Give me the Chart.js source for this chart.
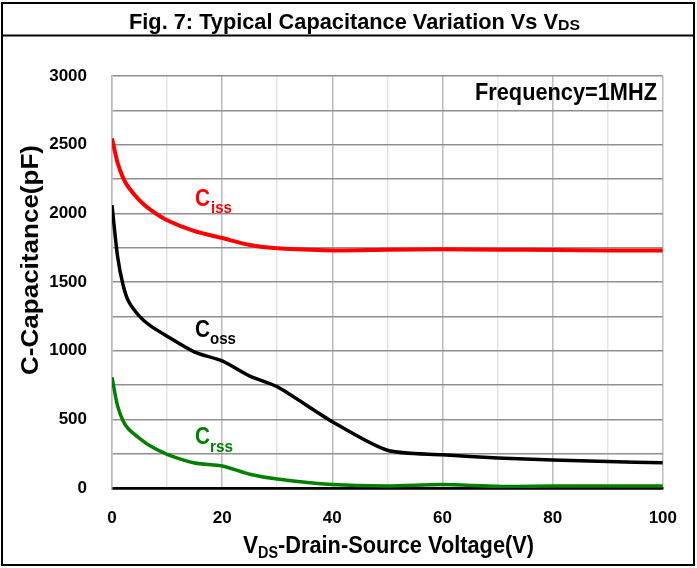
<!DOCTYPE html>
<html>
<head>
<meta charset="utf-8">
<script src="https://cdn.jsdelivr.net/npm/chart.js@4.4.1/dist/chart.umd.min.js"></script>
<style>
  html, body { margin: 0; padding: 0; background: #fff; }
  #wrap { width: 697px; height: 568px; }
</style>
</head>
<body>
<div id="wrap"><canvas id="grafic" width="697" height="568"></canvas></div>
<script>
// VDS (V) and capacitances (pF)
const vds  = [0, 1, 2, 3, 5, 7, 10, 15, 20, 25, 30, 40, 50, 60, 70, 80, 90, 100];
const ciss = [2545, 2370, 2260, 2190, 2095, 2025, 1950, 1870, 1820, 1770, 1745, 1730, 1735, 1738, 1735, 1733, 1730, 1730];
const coss = [2060, 1690, 1480, 1360, 1250, 1180, 1105, 990, 925, 815, 737, 483, 275, 242, 218, 204, 193, 184];
const crss = [806, 600, 490, 430, 362, 305, 245, 182, 160, 100, 65, 25, 15, 25, 12, 15, 15, 15];

const FONT = '"Liberation Sans Narrow", "Arial Narrow", "Liberation Sans", Arial, sans-serif';

const punts = arr => vds.map((v, i) => ({ x: v, y: arr[i] }));

// text ajustat a una amplada (imita la lletra estreta de l'original)
function textAjust(ctx, text, x, y, size, ample, color) {
  ctx.save();
  ctx.font = `bold ${size}px ${FONT}`;
  ctx.fillStyle = color || '#000';
  ctx.textAlign = 'left';
  ctx.textBaseline = 'alphabetic';
  const w = ctx.measureText(text).width;
  ctx.translate(x, y);
  ctx.scale(ample / w, 1);
  ctx.fillText(text, 0, 0);
  ctx.restore();
}

const pluginDecor = {
  id: 'decor',
  afterDraw(chart) {
    const { ctx } = chart;
    ctx.save();

    // marc i línia del títol
    ctx.strokeStyle = '#000';
    ctx.lineWidth = 2;
    ctx.strokeRect(2, 3, 692, 562);
    ctx.beginPath();
    ctx.moveTo(2, 35.5);
    ctx.lineTo(694, 35.5);
    ctx.stroke();

    // títol
    textAjust(ctx, 'Fig. 7: Typical Capacitance Variation Vs V', 129, 29, 22, 429);
    textAjust(ctx, 'DS', 558, 30, 14, 22);

    // títol eix X
    textAjust(ctx, 'V', 243, 553, 24, 15);
    textAjust(ctx, 'DS', 258, 558, 16, 20);
    textAjust(ctx, '-Drain-Source Voltage(V)', 278, 553, 24, 256);

    // títol eix Y
    ctx.save();
    ctx.translate(38, 375);
    ctx.rotate(-Math.PI / 2);
    textAjust(ctx, 'C-Capacitance(pF)', 0, 0, 23, 230);
    ctx.restore();

    // freqüència
    textAjust(ctx, 'Frequency=1MHZ', 475, 100, 23, 182);

    // etiquetes de corbes
    textAjust(ctx, 'C', 195, 206, 24, 15, '#ff0000');
    textAjust(ctx, 'iss', 211, 213, 17, 21, '#ff0000');
    textAjust(ctx, 'C', 195, 337, 24, 15, '#000000');
    textAjust(ctx, 'oss', 210, 344, 17, 26, '#000000');
    textAjust(ctx, 'C', 195, 444, 24, 15, '#008000');
    textAjust(ctx, 'rss', 210, 452, 17, 23, '#008000');

    ctx.restore();
  }
};

new Chart(document.getElementById('grafic').getContext('2d'), {
  type: 'line',
  data: {
    datasets: [
      { label: 'Ciss', data: punts(ciss), borderColor: '#ff0000', borderWidth: 4, pointRadius: 0, tension: 0.25, fill: false },
      { label: 'Coss', data: punts(coss), borderColor: '#000000', borderWidth: 3.5, pointRadius: 0, tension: 0.25, fill: false },
      { label: 'Crss', data: punts(crss), borderColor: '#008000', borderWidth: 3.5, pointRadius: 0, tension: 0.25, fill: false },
    ]
  },
  options: {
    animation: false,
    responsive: false,
    layout: { padding: { top: 76, right: 34, left: 0, bottom: 0 } },
    plugins: { legend: { display: false }, tooltip: { enabled: false }, title: { display: false } },
    scales: {
      x: {
        type: 'linear',
        min: 0,
        max: 100,
        ticks: {
          stepSize: 10,
          autoSkip: false,
          maxRotation: 0,
          padding: 20,
          color: '#000',
          font: { family: FONT, size: 17, weight: 'bold' },
          callback: v => (v % 20 === 0 ? v : ''),
        },
        grid: {
          color: c => (c.tick && c.tick.value % 20 === 0 ? '#bcbcbc' : '#e4e4e4'),
          lineWidth: 1.5,
          drawTicks: false,
        },
        border: { display: true, color: '#000', width: 2.5 },
        afterFit: s => { s.height = 80; },
      },
      y: {
        min: 0,
        max: 3000,
        ticks: {
          stepSize: 250,
          autoSkip: false,
          padding: 25,
          color: '#000',
          font: { family: FONT, size: 17, weight: 'bold' },
          callback: v => (v % 500 === 0 ? v : ''),
        },
        grid: {
          color: c => (c.tick && c.tick.value === 0 ? '#000' : '#8f8f8f'),
          lineWidth: c => (c.tick && c.tick.value === 0 ? 2.5 : 1.5),
          drawTicks: false,
        },
        border: { display: true, color: '#bcbcbc', width: 1.5 },
        afterFit: s => { s.width = 112; },
      }
    }
  },
  plugins: [pluginDecor]
});
</script>
</body>
</html>
